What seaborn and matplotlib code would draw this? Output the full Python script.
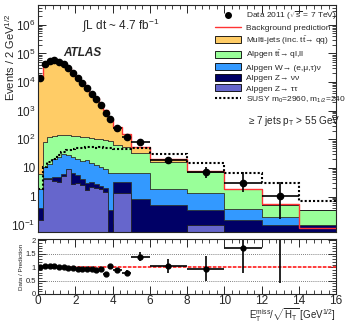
import numpy as np
import pandas as pd
import matplotlib
matplotlib.use("Agg")
import matplotlib.pyplot as plt
import seaborn as sns
from matplotlib.patches import Patch
from matplotlib.lines import Line2D
from matplotlib.ticker import MultipleLocator, LogLocator, NullFormatter, FixedLocator

# binning in E_T^miss / sqrt(H_T)
bin_edges = [0, 0.25, 0.5, 0.75, 1.0, 1.25, 1.5, 1.75, 2.0, 2.25, 2.5, 2.75, 3.0,
             3.25, 3.5, 3.75, 4.0, 4.5, 5, 6, 8, 10, 12, 14, 16]

# stacked backgrounds (events / 2 GeV^1/2), bottom to top
z_tautau = [0.15, 4.0, 4.0, 3.6, 3.3, 5.1, 8.9, 2.8, 2.9, 2.5, 1.7, 2.2, 2.0, 1.8, 1.5, 0,
            1.3, 1.3, 0, 0, 0.1, 0, 0, 0]
z_nunu = [0.25, 0.3, 0.5, 1.4, 1.7, 0.9, 0.6, 3.7, 2.6, 1.5, 1.3, 1.0, 0.8, 0.6, 0.5, 0.35,
          2.0, 2.0, 0.8, 0.5, 0.23, 0.15, 0.1, 0.1]
w_lnu = [1.4, 6.7, 9.5, 15, 19, 24, 18.5, 17.5, 14.5, 14, 16, 11.8, 10.2, 8.6, 7, 6.15,
         3.4, 3.2, 5.7, 1.4, 0.97, 0.23, 0.1, 0.0]
ttbar = [4.2, 69, 106, 115, 116, 110, 110, 111, 110, 107, 101, 100, 92, 89, 86, 83.5,
         58.3, 48.5, 27.5, 14.1, 6.0, 1.42, 0.3, 0.23]
multijet = [1.35e4, 4.09e4, 5.39e4, 5.49e4, 4.99e4, 4.09e4, 3.04e4, 2.19e4, 1.49e4, 9675,
            6280, 4085, 2695, 1650, 985, 405, 213, 99, 21, 4, 0.7, 0, 0, 0]

bkg_pred = [1.35e4, 4.1e4, 5.4e4, 5.5e4, 5.0e4, 4.1e4, 3.05e4, 2.2e4, 1.5e4, 9.8e3, 6.4e3,
            4.2e3, 2.8e3, 1.75e3, 1.08e3, 495, 278, 154, 55, 20, 8, 1.8, 0.55, 0.08]
susy = [1.8, 11, 16.5, 21, 28, 37, 42, 46, 48, 49, 52, 52, 50, 52, 49, 48, 47, 45, 48, 30,
        15, 6.8, 2.9, 0.7]

data = [1.35e4, 4.2e4, 5.6e4, 5.7e4, 5.0e4, 4.1e4, 3.0e4, 2.1e4, 1.4e4, 9.2e3, 6.0e3,
        3.9e3, 2.5e3, 1.6e3, 800, 510, 250, 123, 80, 19, 7, 3.1, 1.03]
data_err_lo = [120, 200, 240, 240, 220, 200, 170, 150, 120, 100, 80, 60, 50, 40, 30, 25,
               16, 11, 11, 5, 2.7, 1.6, 0.86]
data_err_hi = [120, 200, 240, 240, 220, 200, 170, 150, 120, 100, 80, 60, 50, 40, 30, 25,
               16, 11, 12, 6, 4, 3.9, 2.3]

ratio = [1.0, 1.03, 1.04, 1.03, 1.0, 1.0, 0.98, 0.96, 0.93, 0.94, 0.94, 0.92, 0.90, 0.92,
         0.74, 1.03, 0.90, 0.80, 1.38, 1.05, 0.92, 1.72, 2.3]
ratio_err_lo = [0.02, 0.02, 0.02, 0.02, 0.02, 0.02, 0.02, 0.02, 0.02, 0.02, 0.02, 0.02,
                0.03, 0.03, 0.04, 0.1, 0.07, 0.08, 0.15, 0.25, 0.42, 0.93, 1.9]
ratio_err_hi = [0.02, 0.02, 0.02, 0.02, 0.02, 0.02, 0.02, 0.02, 0.02, 0.02, 0.02, 0.02,
                0.03, 0.03, 0.04, 0.1, 0.07, 0.08, 0.17, 0.27, 0.48, 0.9, 1.0]

processes = ["Multi-jets", "ttbar", "W", "Znunu", "Ztautau"]
colors = {"Multi-jets": "#ffcc66", "ttbar": "#99ff99", "W": "#3399ff",
          "Znunu": "#000066", "Ztautau": "#6666cc"}
labels = {"Multi-jets": r"Multi-jets (inc. $\mathrm{t\bar{t}}$→ qq)",
          "ttbar": r"Alpgen $\mathrm{t\bar{t}}$→ ql,ll",
          "W": "Alpgen W→ (e,μ,τ)ν",
          "Znunu": "Alpgen Z→ νν",
          "Ztautau": "Alpgen Z→ ττ"}

edges = np.array(bin_edges)
centers = 0.5 * (edges[1:] + edges[:-1])
half = 0.5 * np.diff(edges)

rows = []
for name, vals in zip(processes, [multijet, ttbar, w_lnu, z_nunu, z_tautau]):
    for c, v in zip(centers, vals):
        rows.append({"x": c, "w": v, "process": name})
df = pd.DataFrame(rows)

sns.set_theme(style="ticks")
plt.rcParams["font.family"] = ["Liberation Sans", "DejaVu Sans"]
plt.rcParams["mathtext.fontset"] = "custom"
plt.rcParams["mathtext.rm"] = "Liberation Sans"
plt.rcParams["mathtext.it"] = "Liberation Sans:italic"
plt.rcParams["mathtext.bf"] = "Liberation Sans:bold"
plt.rcParams["xtick.direction"] = "in"
plt.rcParams["ytick.direction"] = "in"
plt.rcParams["axes.linewidth"] = 0.8

fig = plt.figure(figsize=(3.49, 3.23), dpi=100)
ax = fig.add_axes([0.109, 0.2817, 0.854, 0.7028])
rax = fig.add_axes([0.109, 0.0898, 0.854, 0.170])

ax.set_yscale("log")
sns.histplot(data=df, x="x", weights="w", hue="process", hue_order=processes,
             palette=colors, multiple="stack", bins=bin_edges, element="step",
             fill=True, alpha=1, linewidth=0.5, edgecolor="#222222", legend=False, ax=ax)

ax.stairs(bkg_pred, edges, color="#ff3333", lw=1.0, baseline=None)
ax.stairs(susy, edges, color="black", lw=1.5, ls=(0, (1, 1)), baseline=None)
n = len(data)
ax.errorbar(centers[:n], data, yerr=[data_err_lo, data_err_hi], xerr=half[:n],
            fmt="o", ms=4.5, color="black", elinewidth=1.2, capsize=0)

ax.set_xlim(0, 16)
ax.set_ylim(0.058, 4.9e6)
ax.set_xlabel("")
ax.set_ylabel(r"Events / 2 GeV$^{1/2}$", fontsize=8, loc="top")
ax.yaxis.set_label_coords(-0.07, 0.96)
ax.xaxis.set_major_locator(MultipleLocator(2))
ax.xaxis.set_minor_locator(MultipleLocator(0.4))
ax.tick_params(axis="x", labelbottom=False)
ax.yaxis.set_major_locator(LogLocator(base=10, numticks=12))
ax.yaxis.set_minor_locator(LogLocator(base=10, subs=np.arange(2, 10), numticks=12))
ax.yaxis.set_minor_formatter(NullFormatter())
ax.set_yticks([0.1, 1, 10, 100, 1e3, 1e4, 1e5, 1e6])
ax.set_yticklabels([r"10$^{-1}$", "1", "10", r"10$^{2}$", r"10$^{3}$", r"10$^{4}$",
                    r"10$^{5}$", r"10$^{6}$"])
for a in (ax, rax):
    a.tick_params(which="both", top=True, right=True, direction="in", labelsize=8.5, pad=2)
    a.tick_params(which="major", length=6, width=0.7)
    a.tick_params(which="minor", length=3, width=0.6)

ax.text(0.148, 0.91, r"$\int$L dt ~ 4.7 fb$^{-1}$", transform=ax.transAxes,
        fontsize=8.5, va="center", ha="left")
ax.text(0.084, 0.79, "ATLAS", transform=ax.transAxes, fontsize=8.5,
        fontweight="bold", style="italic", va="center", ha="left")
ax.text(0.705, 0.49, r"≥ 7 jets p$_{\rm T}$ > 55 GeV", transform=ax.transAxes,
        fontsize=7.2, va="center", ha="left")

handles = [Line2D([], [], marker="o", ls="none", color="black", ms=4),
           Line2D([], [], color="#ff3333", lw=1.0)]
handles += [Patch(facecolor=colors[p], edgecolor="black", lw=0.6) for p in processes]
handles.append(Line2D([], [], color="black", lw=1.5, ls=(0, (1, 1))))
leg_labels = [r"Data 2011 ($\sqrt{\rm s}$ = 7 TeV)", "Background prediction"]
leg_labels += [labels[p] for p in processes]
leg_labels.append(r"SUSY m$_0$=2960, m$_{1/2}$=240")
ax.legend(handles, leg_labels, loc="upper left", bbox_to_anchor=(0.59, 0.985),
          frameon=False, fontsize=6.0, labelspacing=0.25, handlelength=3.2,
          handleheight=0.9, handletextpad=0.5, borderaxespad=0, borderpad=0.1)

# ratio panel
rax.axhspan(0.97, 1.03, color="#ff6666", alpha=0.25, lw=0)
rax.axhline(1, color="#ff2222", lw=1.2, ls=(0, (2, 1)))
for yv in (0.5, 1.5):
    rax.axhline(yv, color="#555555", lw=0.6, ls=(0, (1, 1.5)))
rax.errorbar(centers[:n], ratio, yerr=[ratio_err_lo, ratio_err_hi], xerr=half[:n],
             fmt="o", ms=3.5, color="black", elinewidth=1.2, capsize=0)
rax.set_xlim(0, 16)
rax.set_ylim(0, 2.05)
rax.xaxis.set_major_locator(MultipleLocator(2))
rax.xaxis.set_minor_locator(MultipleLocator(0.4))
rax.yaxis.set_major_locator(FixedLocator([0, 0.5, 1, 1.5, 2]))
rax.yaxis.set_minor_locator(MultipleLocator(0.1))
rax.set_yticklabels(["0", "0.5", "1", "1.5", "2"])
rax.tick_params(axis="y", labelsize=5.5, pad=1.5)
rax.tick_params(axis="x", labelsize=8.5, pad=0.5)
rax.set_ylabel("Data / Prediction", fontsize=4.5, labelpad=1)
rax.set_xlabel(r"E$_{\rm T}^{\rm miss}$/$\sqrt{\rm H_T}$ [GeV$^{1/2}$]",
               fontsize=7, loc="right")
rax.xaxis.set_label_coords(1.0, -0.23)

fig.savefig("out.png", dpi=100)
